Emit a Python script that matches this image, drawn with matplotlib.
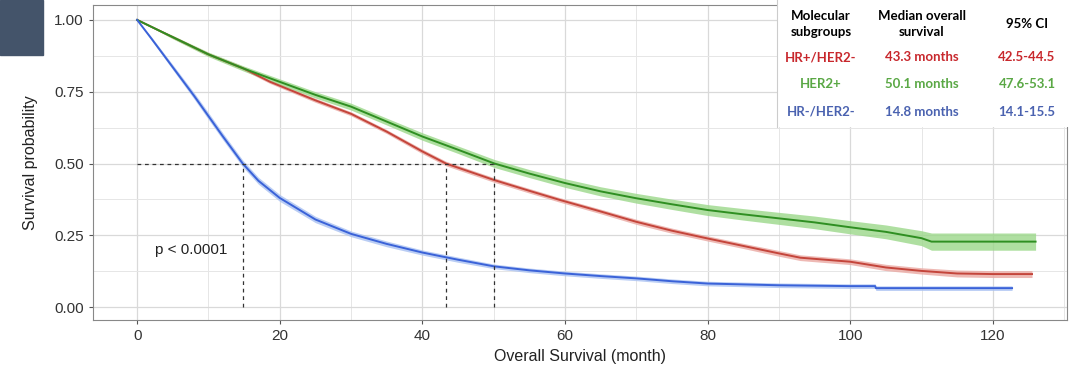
import numpy as np
import matplotlib
matplotlib.use('Agg')
import matplotlib.pyplot as plt
from matplotlib.patches import Rectangle
from matplotlib.ticker import MultipleLocator

# survival curves (months, probability, CI half width)
red_t = [0, 5, 10, 15, 18.6, 25, 30, 35, 40, 43.3, 50, 55, 59.3, 65, 70, 75,
         80, 85, 90, 93, 100, 105, 110, 115, 120, 125.5]
red_s = [1.0, 0.94, 0.88, 0.83, 0.785, 0.72, 0.673, 0.611, 0.542, 0.50, 0.443,
         0.405, 0.373, 0.333, 0.297, 0.266, 0.239, 0.213, 0.187, 0.172, 0.158,
         0.138, 0.126, 0.117, 0.115, 0.115]
red_ci = [0, 0.004, 0.005, 0.006, 0.006, 0.007, 0.007, 0.007, 0.008, 0.008,
          0.008, 0.008, 0.008, 0.008, 0.009, 0.009, 0.009, 0.009, 0.01, 0.01,
          0.01, 0.011, 0.011, 0.012, 0.012, 0.012]

green_t = [0, 5, 10, 15, 18.6, 25, 30, 35, 40, 45, 50.1, 55, 60, 65, 70, 75, 80,
           85, 90, 95, 100, 105, 110, 111.4, 126]
green_s = [1.0, 0.94, 0.88, 0.83, 0.797, 0.739, 0.698, 0.646, 0.594, 0.548,
           0.50, 0.465, 0.432, 0.403, 0.379, 0.358, 0.338, 0.323, 0.309, 0.295,
           0.278, 0.262, 0.24, 0.228, 0.228]
green_ci = [0, 0.006, 0.008, 0.009, 0.01, 0.011, 0.012, 0.012, 0.013, 0.013,
            0.014, 0.014, 0.015, 0.016, 0.017, 0.018, 0.019, 0.02, 0.021, 0.022,
            0.023, 0.024, 0.026, 0.03, 0.03]

blue_t = [0, 2, 5, 8, 10, 12, 14.8, 17, 20, 25, 30, 35, 40, 45, 50, 55, 60, 65,
          70, 75, 80, 90, 100, 103.5, 103.6, 122.7]
blue_s = [1.0, 0.935, 0.835, 0.735, 0.665, 0.595, 0.50, 0.44, 0.38, 0.305,
          0.255, 0.22, 0.19, 0.165, 0.142, 0.128, 0.117, 0.108, 0.10, 0.09,
          0.082, 0.076, 0.073, 0.073, 0.066, 0.066]
blue_ci = [0, 0.006, 0.009, 0.011, 0.012, 0.012, 0.012, 0.012, 0.012, 0.011,
           0.01, 0.01, 0.009, 0.009, 0.008, 0.008, 0.008, 0.008, 0.008, 0.008,
           0.008, 0.008, 0.008, 0.008, 0.008, 0.008]

medians = [14.8, 43.3, 50.1]

groups = ['HR+/HER2-', 'HER2+', 'HR-/HER2-']
median_txt = ['43.3 months', '50.1 months', '14.8 months']
ci_txt = ['42.5-44.5', '47.6-53.1', '14.1-15.5']
text_cols = ['#c8282d', '#5aa845', '#4a62b0']

plt.rcParams['font.family'] = ['Liberation Sans', 'DejaVu Sans']

fig = plt.figure(figsize=(10.76, 3.68), dpi=100)
ax = fig.add_axes([0.0864, 0.1304, 0.9052, 0.856])

curves = [(red_t, red_s, red_ci, '#c4453b', '#eaa8a2'),
          (green_t, green_s, green_ci, '#2f8f22', '#9bd88a'),
          (blue_t, blue_s, blue_ci, '#3a62d8', '#a9c1f2')]
for t, s, ci, lc, fc in curves:
    t = np.array(t)
    s = np.array(s)
    ci = np.array(ci)
    ax.fill_between(t, s - ci, s + ci, color=fc, alpha=0.8, lw=0, zorder=2)
    ax.plot(t, s, color=lc, lw=1.4, zorder=3)

# median reference lines
ax.plot([0, max(medians)], [0.5, 0.5], color='#333333', ls=(0, (3, 3)), lw=0.9, zorder=4)
for m in medians:
    ax.plot([m, m], [0, 0.5], color='#333333', ls=(0, (3, 3)), lw=0.9, zorder=4)

ax.text(2.5, 0.2, 'p < 0.0001', fontsize=11, color='#222222', va='center')

ax.set_xlim(-6.2, 130.4)
ax.set_ylim(-0.045, 1.052)
ax.xaxis.set_major_locator(MultipleLocator(20))
ax.xaxis.set_minor_locator(MultipleLocator(10))
ax.yaxis.set_major_locator(MultipleLocator(0.25))
ax.yaxis.set_minor_locator(MultipleLocator(0.125))
ax.set_yticks([0, 0.25, 0.5, 0.75, 1.0])
ax.set_yticklabels(['0.00', '0.25', '0.50', '0.75', '1.00'])
ax.grid(which='major', color='#d9d9d9', lw=0.9, zorder=0)
ax.grid(which='minor', color='#e6e6e6', lw=0.7, zorder=0)
ax.set_axisbelow(True)
ax.tick_params(which='major', length=3, color='#555555', labelsize=11,
               labelcolor='#333333')
ax.tick_params(which='minor', length=0)
for sp in ax.spines.values():
    sp.set_color('#888888')
    sp.set_linewidth(0.8)
ax.set_xlabel('Overall Survival (month)', fontsize=11.5, color='#222222', labelpad=4)
ax.set_ylabel('Survival probability', fontsize=11.5, color='#222222', labelpad=12)

# dark block in the corner
fig.patches.append(Rectangle((0, 1 - 55 / 368), 43 / 1076, 55 / 368,
                             transform=fig.transFigure, color='#44546a', zorder=5))

# table box over top right
fig.patches.append(Rectangle((777 / 1076, 1 - 127 / 368), 299 / 1076, 127 / 368,
                             transform=fig.transFigure, facecolor='white',
                             edgecolor='none', zorder=5))
fig.lines.append(plt.Line2D([777 / 1076, 777 / 1076], [1 - 127 / 368, 1],
                            transform=fig.transFigure, color='#cccccc', lw=0.8,
                            zorder=6))

tf = ['Lato', 'DejaVu Sans']
col_x = [821 / 1076, 922 / 1076, 1027 / 1076]
fig.text(col_x[0], 1 - 24 / 368, 'Molecular\nsubgroups', ha='center', va='center',
         fontsize=9.5, fontweight='bold', family=tf, linespacing=1.35, zorder=6)
fig.text(col_x[1], 1 - 24 / 368, 'Median overall\nsurvival', ha='center', va='center',
         fontsize=9.5, fontweight='bold', family=tf, linespacing=1.35, zorder=6)
fig.text(col_x[2], 1 - 24 / 368, '95% CI', ha='center', va='center',
         fontsize=9.5, fontweight='bold', family=tf, zorder=6)
row_y = [57, 84, 112]
for g, m, c, col, ry in zip(groups, median_txt, ci_txt, text_cols, row_y):
    y = 1 - ry / 368
    for x, txt in zip(col_x, [g, m, c]):
        fig.text(x, y, txt, ha='center', va='center', fontsize=9.5,
                 fontweight='bold', family=tf, color=col, zorder=6)

plt.savefig('out.png', dpi=100)
plt.close()
